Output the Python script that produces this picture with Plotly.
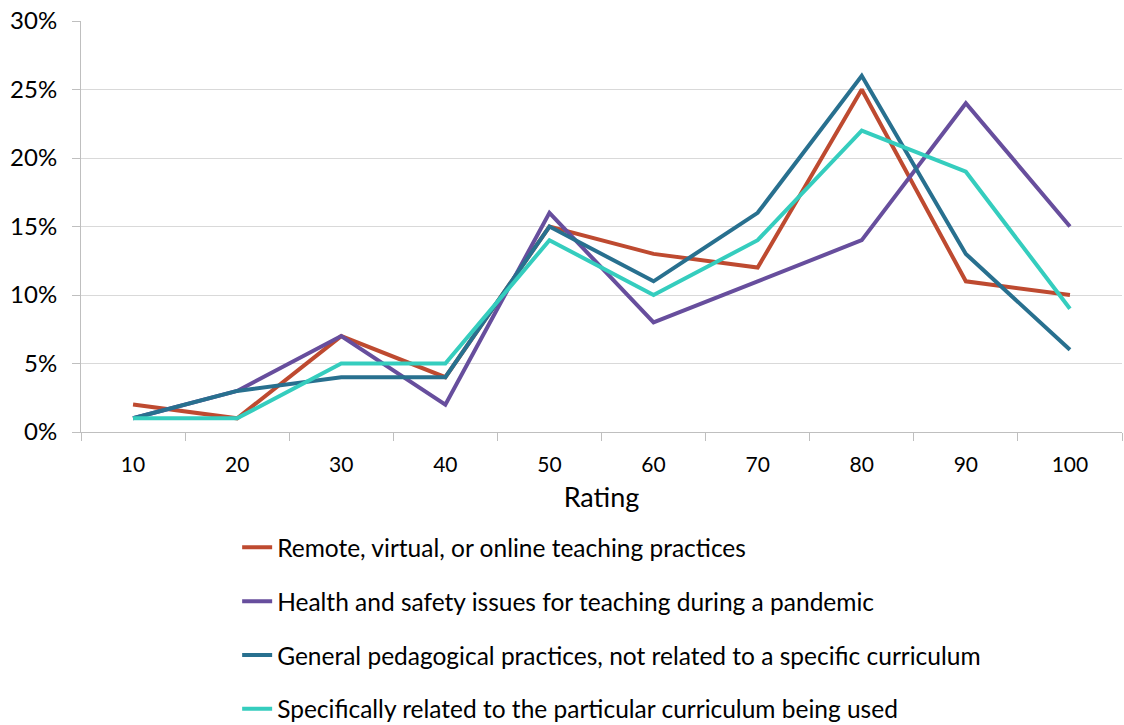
import plotly.graph_objects as go

ratings = ["10", "20", "30", "40", "50", "60", "70", "80", "90", "100"]

remote = [0.02, 0.01, 0.07, 0.04, 0.15, 0.13, 0.12, 0.25, 0.11, 0.10]
health = [0.01, 0.03, 0.07, 0.02, 0.16, 0.08, 0.11, 0.14, 0.24, 0.15]
general = [0.01, 0.03, 0.04, 0.04, 0.15, 0.11, 0.16, 0.26, 0.13, 0.06]
specific = [0.01, 0.01, 0.05, 0.05, 0.14, 0.10, 0.14, 0.22, 0.19, 0.09]

series = [
    ("Remote, virtual, or online teaching practices", remote, "#BE4A30"),
    ("Health and safety issues for teaching during a pandemic", health, "#674E9D"),
    ("General pedagogical practices, not related to a specific curriculum", general, "#28708F"),
    ("Specifically related to the particular curriculum being used", specific, "#35CDBE"),
]

font_name = "Lato, 'Open Sans', sans-serif"

fig = go.Figure()
for i, (name, vals, color) in enumerate(series):
    fig.add_trace(go.Scatter(
        x=ratings, y=vals, name=name, mode="lines",
        line=dict(color=color, width=4),
        legendgroup=str(i),
    ))

fig.update_layout(
    width=1124, height=725,
    margin=dict(l=81, r=2, t=21, b=293, autoexpand=False),
    plot_bgcolor="white", paper_bgcolor="white",
    font=dict(family=font_name, color="#000000"),
    showlegend=True,
    legend=dict(
        x=0.150, xanchor="left", y=-0.226, yanchor="top",
        font=dict(size=24.5, family=font_name),
        tracegroupgap=19,
        bgcolor="rgba(0,0,0,0)",
    ),
)
fig.update_xaxes(
    type="category", range=[-0.5, 9.5], automargin=False,
    tickson="boundaries", ticks="outside", ticklen=8, tickcolor="#BFBFBF",
    showline=True, linecolor="#BFBFBF", linewidth=1,
    showgrid=False,
    tickfont=dict(size=21), ticklabelstandoff=14,
    title=dict(text="Rating", font=dict(size=27), standoff=12),
)
fig.update_yaxes(
    range=[0, 0.30], dtick=0.05, tickformat=".0%", automargin=False,
    ticks="outside", ticklen=8, tickcolor="#BFBFBF",
    showline=True, linecolor="#BFBFBF", linewidth=1,
    showgrid=True, gridcolor="#D9D9D9", gridwidth=1,
    zeroline=False,
    tickfont=dict(size=24), ticklabelstandoff=10,
)

# drop the browser's default body margin so the figure sits at 0,0
fig.write_html("out.html", config={"displayModeBar": False},
               post_script="document.body.style.margin='0';")
